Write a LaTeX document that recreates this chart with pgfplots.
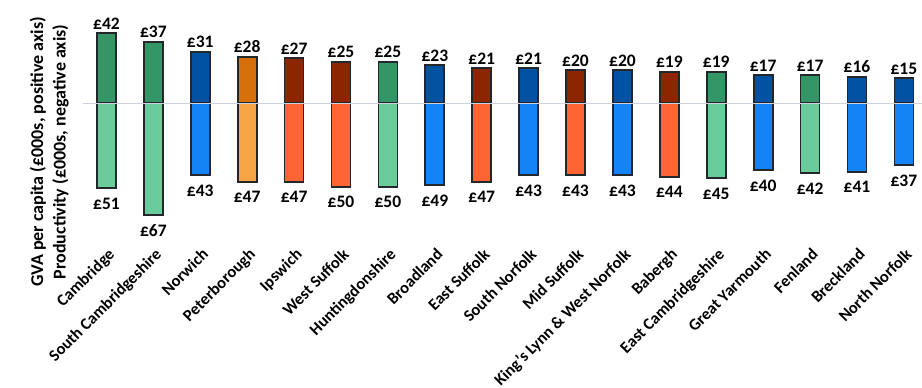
\documentclass[border=0pt]{standalone}
\usepackage{pgfplots}
\usepackage{pgfplotstable}
\pgfplotsset{compat=1.18}
\usepackage{fontspec}
\setmainfont{Carlito}

\definecolor{greenD}{RGB}{52,150,103}
\definecolor{greenL}{RGB}{107,204,155}
\definecolor{blueD}{RGB}{0,82,162}
\definecolor{blueL}{RGB}{20,131,246}
\definecolor{orangeD}{RGB}{214,112,10}
\definecolor{orangeL}{RGB}{248,165,68}
\definecolor{redD}{RGB}{140,38,0}
\definecolor{redL}{RGB}{255,100,50}
\definecolor{barline}{RGB}{35,38,43}
\definecolor{zeroline}{RGB}{205,210,224}

% x = position, pos = GVA per capita, neg = productivity (both in £000s)
\pgfplotstableread{
x pos neg
0 42 51
1 37 67
6 25 50
13 19 45
15 17 42
}\cambs
\pgfplotstableread{
x pos neg
2 31 43
7 23 49
9 21 43
11 20 43
14 17 40
16 16 41
17 15 37
}\norfolk
\pgfplotstableread{
x pos neg
3 28 47
}\peterborough
\pgfplotstableread{
x pos neg
4 27 47
5 25 50
8 21 47
10 20 43
12 19 44
}\suffolk

\begin{document}
\begin{tikzpicture}
\useasboundingbox (0pt,0pt) rectangle (922pt,388pt);
\begin{axis}[
  at={(83pt,143pt)}, anchor=south west,
  scale only axis, width=842pt, height=245pt,
  xmin=-0.5, xmax=17.45, ymin=-85, ymax=62,
  axis line style={draw=none},
  ytick=\empty,
  xtick={0,...,17},
  xticklabels={Cambridge, South Cambridgeshire, Norwich, Peterborough, Ipswich,
    West Suffolk, Huntingdonshire, Broadland, East Suffolk, South Norfolk,
    Mid Suffolk, King’s Lynn \& West Norfolk, Babergh, East Cambridgeshire,
    Great Yarmouth, Fenland, Breckland, North Norfolk},
  major tick length=0pt,
  xticklabel style={rotate=45, anchor=north east, inner sep=1pt, yshift=-1pt,
    font=\bfseries\fontsize{16.5}{18}\selectfont},
  extra y ticks={0}, extra y tick labels={},
  extra y tick style={grid=major,
    major grid style={draw=zeroline, line width=1.6pt}},
  axis on top,
  ylabel={GVA per capita (£000s, positive axis)\\Productivity (£000s, negative axis)},
  ylabel style={at={(axis description cs:-0.040,0.38)}, anchor=center,
    align=center, font=\bfseries\fontsize{18}{22.5}\selectfont},
  ybar, bar width=19pt,
  every axis plot/.append style={bar shift=0pt, draw=barline, line width=1.7pt},
  /pgf/number format/assume math mode=true,
  nodes near coords={£\pgfmathprintnumber{\pgfplotspointmeta}},
  every node near coord/.append style={font=\bfseries\fontsize{17.5}{20}\selectfont,
    text=black, inner sep=2pt},
  point meta=explicit,
]
  \newcommand{\posbars}[2]{\addplot[fill=#2, nodes near coords style={anchor=south, yshift=1pt}]
    table[x=x, y=pos, meta=pos] {#1};}
  \newcommand{\negbars}[2]{\addplot[fill=#2, nodes near coords style={anchor=north, yshift=-7pt}]
    table[x=x, y expr=-\thisrow{neg}, meta=neg] {#1};}
  \posbars{\cambs}{greenD}
  \negbars{\cambs}{greenL}
  \posbars{\norfolk}{blueD}
  \negbars{\norfolk}{blueL}
  \posbars{\peterborough}{orangeD}
  \negbars{\peterborough}{orangeL}
  \posbars{\suffolk}{redD}
  \negbars{\suffolk}{redL}
\end{axis}
\end{tikzpicture}
\end{document}
